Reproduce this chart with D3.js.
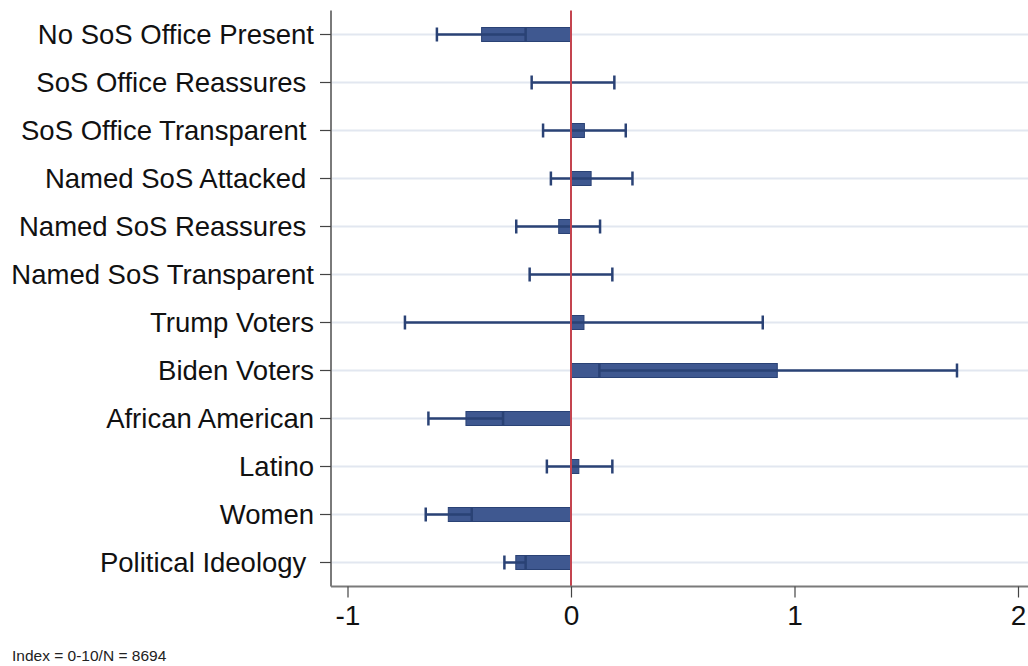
<!DOCTYPE html>
<html>
<head>
<meta charset="utf-8">
<script src="https://cdn.jsdelivr.net/npm/d3@7"></script>
<style>
    html, body { margin: 0; padding: 0; background: #fff; }
    svg { display: block; font-family: "Liberation Sans", Arial, Helvetica, sans-serif; }
</style>
</head>
<body>
<svg id="chart" width="1028" height="666"></svg>
<script>
// categories (top to bottom); some labels carry a trailing space like the original
const labels = [
    "No SoS Office Present",
    "SoS Office Reassures ",
    "SoS Office Transparent ",
    "Named SoS Attacked ",
    "Named SoS Reassures ",
    "Named SoS Transparent",
    "Trump Voters",
    "Biden Voters",
    "African American",
    "Latino",
    "Women",
    "Political Ideology "
];
// point estimates
const estimates = [-0.40, 0.002, 0.06, 0.09, -0.055, 0.0, 0.058, 0.923, -0.47, 0.035, -0.549, -0.247];
// confidence interval bounds
const ciLow = [-0.60, -0.176, -0.125, -0.09, -0.245, -0.185, -0.743, 0.127, -0.638, -0.108, -0.65, -0.298];
const ciHigh = [-0.203, 0.194, 0.245, 0.275, 0.13, 0.185, 0.858, 1.727, -0.304, 0.185, -0.444, -0.203];
// x axis ticks
const xTicks = [-1, 0, 1, 2];
const note = "Index = 0-10/N = 8694";

const data = labels.map((label, i) => ({
    label: label,
    est: estimates[i],
    lo: ciLow[i],
    hi: ciHigh[i]
}));

const svg = d3.select("#chart");
const plot = { left: 331, right: 1028, top: 10.5, bottom: 586.5 };

const xScale = d3.scaleLinear()
    .domain([-1, 2])
    .range([347.5, 1018]);

const yScale = d3.scaleBand()
    .domain(labels)
    .range([plot.top, plot.bottom]);

const barH = 14;
const navy = "#3f5890";
const navyDark = "#2a4275";

// horizontal grid lines
svg.append("g")
    .selectAll("line")
    .data(labels)
    .join("line")
    .attr("x1", plot.left)
    .attr("x2", plot.right)
    .attr("y1", d => yScale(d) + yScale.bandwidth() / 2)
    .attr("y2", d => yScale(d) + yScale.bandwidth() / 2)
    .attr("stroke", "#e2e7f0")
    .attr("stroke-width", 2);

// bars from 0 to estimate
svg.append("g")
    .selectAll("rect")
    .data(data)
    .join("rect")
    .attr("x", d => xScale(Math.min(0, d.est)))
    .attr("y", d => yScale(d.label) + yScale.bandwidth() / 2 - barH / 2)
    .attr("width", d => Math.abs(xScale(d.est) - xScale(0)))
    .attr("height", barH)
    .attr("fill", navy)
    .attr("stroke", navyDark)
    .attr("stroke-width", 1);

// confidence intervals
const ci = svg.append("g")
    .selectAll("g")
    .data(data)
    .join("g")
    .attr("transform", d => `translate(0, ${yScale(d.label) + yScale.bandwidth() / 2})`)
    .attr("stroke", navyDark)
    .attr("stroke-width", 2.5);

ci.append("line")
    .attr("x1", d => xScale(d.lo))
    .attr("x2", d => xScale(d.hi))
    .attr("y1", 0)
    .attr("y2", 0);

ci.append("line")
    .attr("x1", d => xScale(d.lo))
    .attr("x2", d => xScale(d.lo))
    .attr("y1", -barH / 2)
    .attr("y2", barH / 2);

ci.append("line")
    .attr("x1", d => xScale(d.hi))
    .attr("x2", d => xScale(d.hi))
    .attr("y1", -barH / 2)
    .attr("y2", barH / 2);

// reference line at zero
svg.append("line")
    .attr("x1", xScale(0))
    .attr("x2", xScale(0))
    .attr("y1", plot.top)
    .attr("y2", plot.bottom)
    .attr("stroke", "#c4444f")
    .attr("stroke-width", 2);

// y axis
const yAxis = d3.axisLeft(yScale)
    .tickSize(11)
    .tickPadding(6);

const yG = svg.append("g")
    .attr("transform", `translate(${plot.left}, 0)`)
    .call(yAxis);
yG.select(".domain")
    .attr("d", `M0,${plot.top}V${plot.bottom}`)
    .attr("stroke", "#7a7a7a")
    .attr("stroke-width", 2);
yG.selectAll(".tick line").attr("stroke", "#444").attr("stroke-width", 1.2);
yG.selectAll(".tick text")
    .style("white-space", "pre")
    .style("font-size", "27.5px")
    .attr("fill", "#111")
    .attr("dy", "0.36em");

// x axis (plain hyphen for negatives, as in the original)
const xAxis = d3.axisBottom(xScale)
    .tickValues(xTicks)
    .tickFormat(d => String(d))
    .tickSize(11)
    .tickPadding(8);

const xG = svg.append("g")
    .attr("transform", `translate(0, ${plot.bottom})`)
    .call(xAxis);
xG.select(".domain")
    .attr("d", `M${plot.left},0H${plot.right}`)
    .attr("stroke", "#7a7a7a")
    .attr("stroke-width", 2);
xG.selectAll(".tick line").attr("stroke", "#444").attr("stroke-width", 1.2);
xG.selectAll(".tick text")
    .style("font-size", "28px")
    .attr("fill", "#111");

// note under the chart
svg.append("text")
    .attr("x", 12)
    .attr("y", 661)
    .style("font-size", "15.5px")
    .attr("fill", "#222")
    .text(note);
</script>
</body>
</html>
